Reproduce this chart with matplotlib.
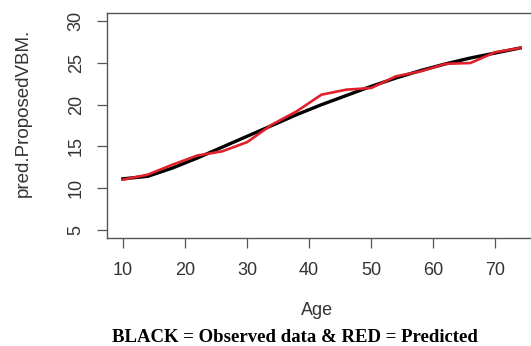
import matplotlib.pyplot as plt

age = [10, 14, 18, 22, 26, 30, 34, 38, 42, 46, 50, 54, 58, 62, 66, 70, 74]
observed = [11.1, 11.4, 12.4, 13.6, 14.9, 16.2, 17.5, 18.8, 20.0, 21.1, 22.2,
            23.2, 24.1, 24.9, 25.6, 26.2, 26.8]
predicted = [11.0, 11.6, 12.8, 13.9, 14.4, 15.5, 17.6, 19.2, 21.2, 21.8, 22.0,
             23.4, 24.0, 24.9, 25.0, 26.3, 26.8]
xticks = [10, 20, 30, 40, 50, 60, 70]
yticks = [5, 10, 15, 20, 25, 30]

plt.rcParams['font.family'] = 'Liberation Sans'
fig = plt.figure(figsize=(5.31, 3.46), dpi=100)
# right edge of the box is cut off in the original image
ax = fig.add_axes([107 / 531, 1 - 238 / 346, 429 / 531, 225 / 346])

ax.plot(age, observed, color='black', lw=2.4, solid_joinstyle='round')
ax.plot(age, predicted, color='#e0202a', lw=1.9, solid_joinstyle='round')

ax.set_xlim(7.44, 76.56)
ax.set_ylim(4.0, 31.0)
ax.set_xticks(xticks)
ax.set_yticks(yticks)
ax.set_yticklabels([str(v) for v in yticks], rotation=90, va='center')
ax.tick_params(length=7, width=0.9, color='#555555', labelcolor='#333333',
               labelsize=13)
ax.tick_params(axis='x', pad=10)
ax.tick_params(axis='y', pad=9)
for s in ax.spines.values():
    s.set_color('#555555')
    s.set_linewidth(1.0)

ax.set_xlabel('Age', fontsize=13, color='#333333')
ax.set_ylabel('pred.ProposedVBM.', fontsize=13.5, color='#333333')
ax.xaxis.set_label_coords(0.49, -0.284)
ax.yaxis.set_label_coords(-0.175, 0.556)

fig.text(295 / 531, 1 - 337 / 346, 'BLACK = Observed data & RED = Predicted',
         family='Liberation Serif', weight='bold', fontsize=13.5,
         ha='center', va='center')

fig.savefig('out.png', dpi=100)
